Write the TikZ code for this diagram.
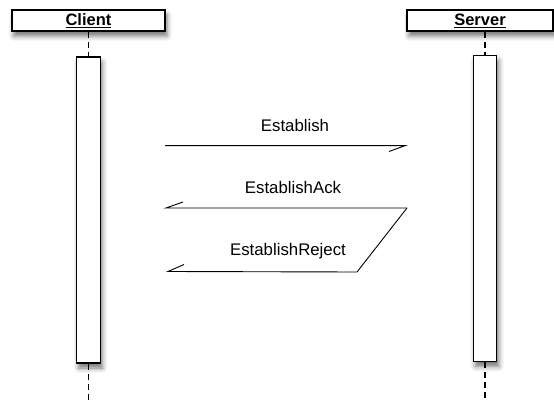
\documentclass[tikz,border=0pt]{standalone}
\usepackage{fontspec}
\setmainfont{Liberation Sans}
\usetikzlibrary{shadows.blur}
\begin{document}
\begin{tikzpicture}[x=1pt,y=1pt,
  sh/.style={blur shadow={shadow xshift=2pt, shadow yshift=-5pt, shadow blur radius=5pt, shadow opacity=55}},
  head/.style={draw, line width=1.3pt, fill=white, sh, inner sep=0pt, minimum height=21pt, font=\bfseries\fontsize{16.5}{18}\selectfont},
  act/.style={draw, line width=1.3pt, fill=white, sh, inner sep=0pt, minimum width=23.5pt, minimum height=306pt},
  life/.style={dash pattern=on 6pt off 4pt, line width=1.2pt},
  msg/.style={line width=0.9pt},
  lbl/.style={font=\fontsize{16.8}{19}\selectfont}]
\useasboundingbox (0,0) rectangle (554,-401);
% lifeline heads
\node[head, minimum width=153pt] (client) at (88.5,-20.5) {\underline{Client}};
\node[head, minimum width=146pt] (server) at (480,-20.5) {\underline{Server}};
% activations
\node[act] (cact) at (88.5,-210) {};
\node[act] (sact) at (485,-208.5) {};
% lifelines
\coordinate (cend) at (88.5,-401);
\coordinate (send) at (485,-401);
\draw[life] (client.south) -- (cact.north);
\draw[life] (sact.north |- server.south) -- (sact.north);
\draw[life] (cact.south) -- (cend);
\draw[life] (sact.south) -- (send);
% messages
\coordinate (m1a) at (165,-145.7);
\coordinate (m1b) at (405,-145.7);
\coordinate (m1t) at (389,-151.5);
\coordinate (m2a) at (407,-208);
\coordinate (m2b) at (166,-208);
\coordinate (m2t) at (183,-202);
\coordinate (m3k) at (357,-272);
\coordinate (m3b) at (168,-271.5);
\coordinate (m3t) at (184,-264.5);
\draw[msg] (m1a) -- (m1b) -- (m1t);
\draw[msg] (m2a) -- (m2b) -- (m2t);
\draw[msg] (m2a) -- (m3k) -- (m3b) -- (m3t);
% labels
\node[lbl] (l1) at (295,-125) {Establish};
\node[lbl] (l2) at (293,-187) {EstablishAck};
\node[lbl] (l3) at (288,-251) {EstablishReject};
\end{tikzpicture}
\end{document}
